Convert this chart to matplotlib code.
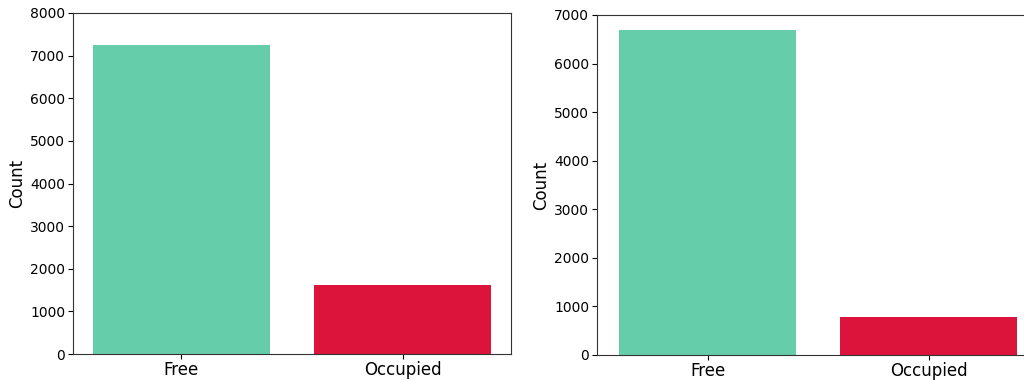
import matplotlib
matplotlib.use('Agg')
import matplotlib.pyplot as plt

plt.rcParams['font.family'] = ['DejaVu Sans']

# Class counts for the two splits
categories = ['Free', 'Occupied']
counts_left = [7250, 1625]
counts_right = [6690, 790]
colors = ['mediumaquamarine', 'crimson']

fig = plt.figure(figsize=(10.24, 3.8), dpi=100)
ax1 = fig.add_axes([73 / 1024, 1 - 354 / 380, 438 / 1024, 341 / 380])
ax2 = fig.add_axes([597 / 1024, 1 - 355 / 380, 442 / 1024, 340 / 380])


def draw(ax, counts, ymax, pad):
    ax.bar(range(len(categories)), counts, width=0.8, color=colors)
    ax.set_xlim(-pad, 1 + pad)
    ax.set_ylim(0, ymax)
    ax.set_xticks(range(len(categories)))
    ax.set_xticklabels(categories, fontsize=12)
    ax.tick_params(axis='x', pad=1.5)
    ax.tick_params(axis='y', labelsize=10, pad=2)
    ax.set_ylabel('Count', fontsize=12, labelpad=3)
    for s in ax.spines.values():
        s.set_color('#333333')


draw(ax1, counts_left, 8000, 0.49)
draw(ax2, counts_right, 7000, 0.5)

fig.savefig('out.png', dpi=100)
